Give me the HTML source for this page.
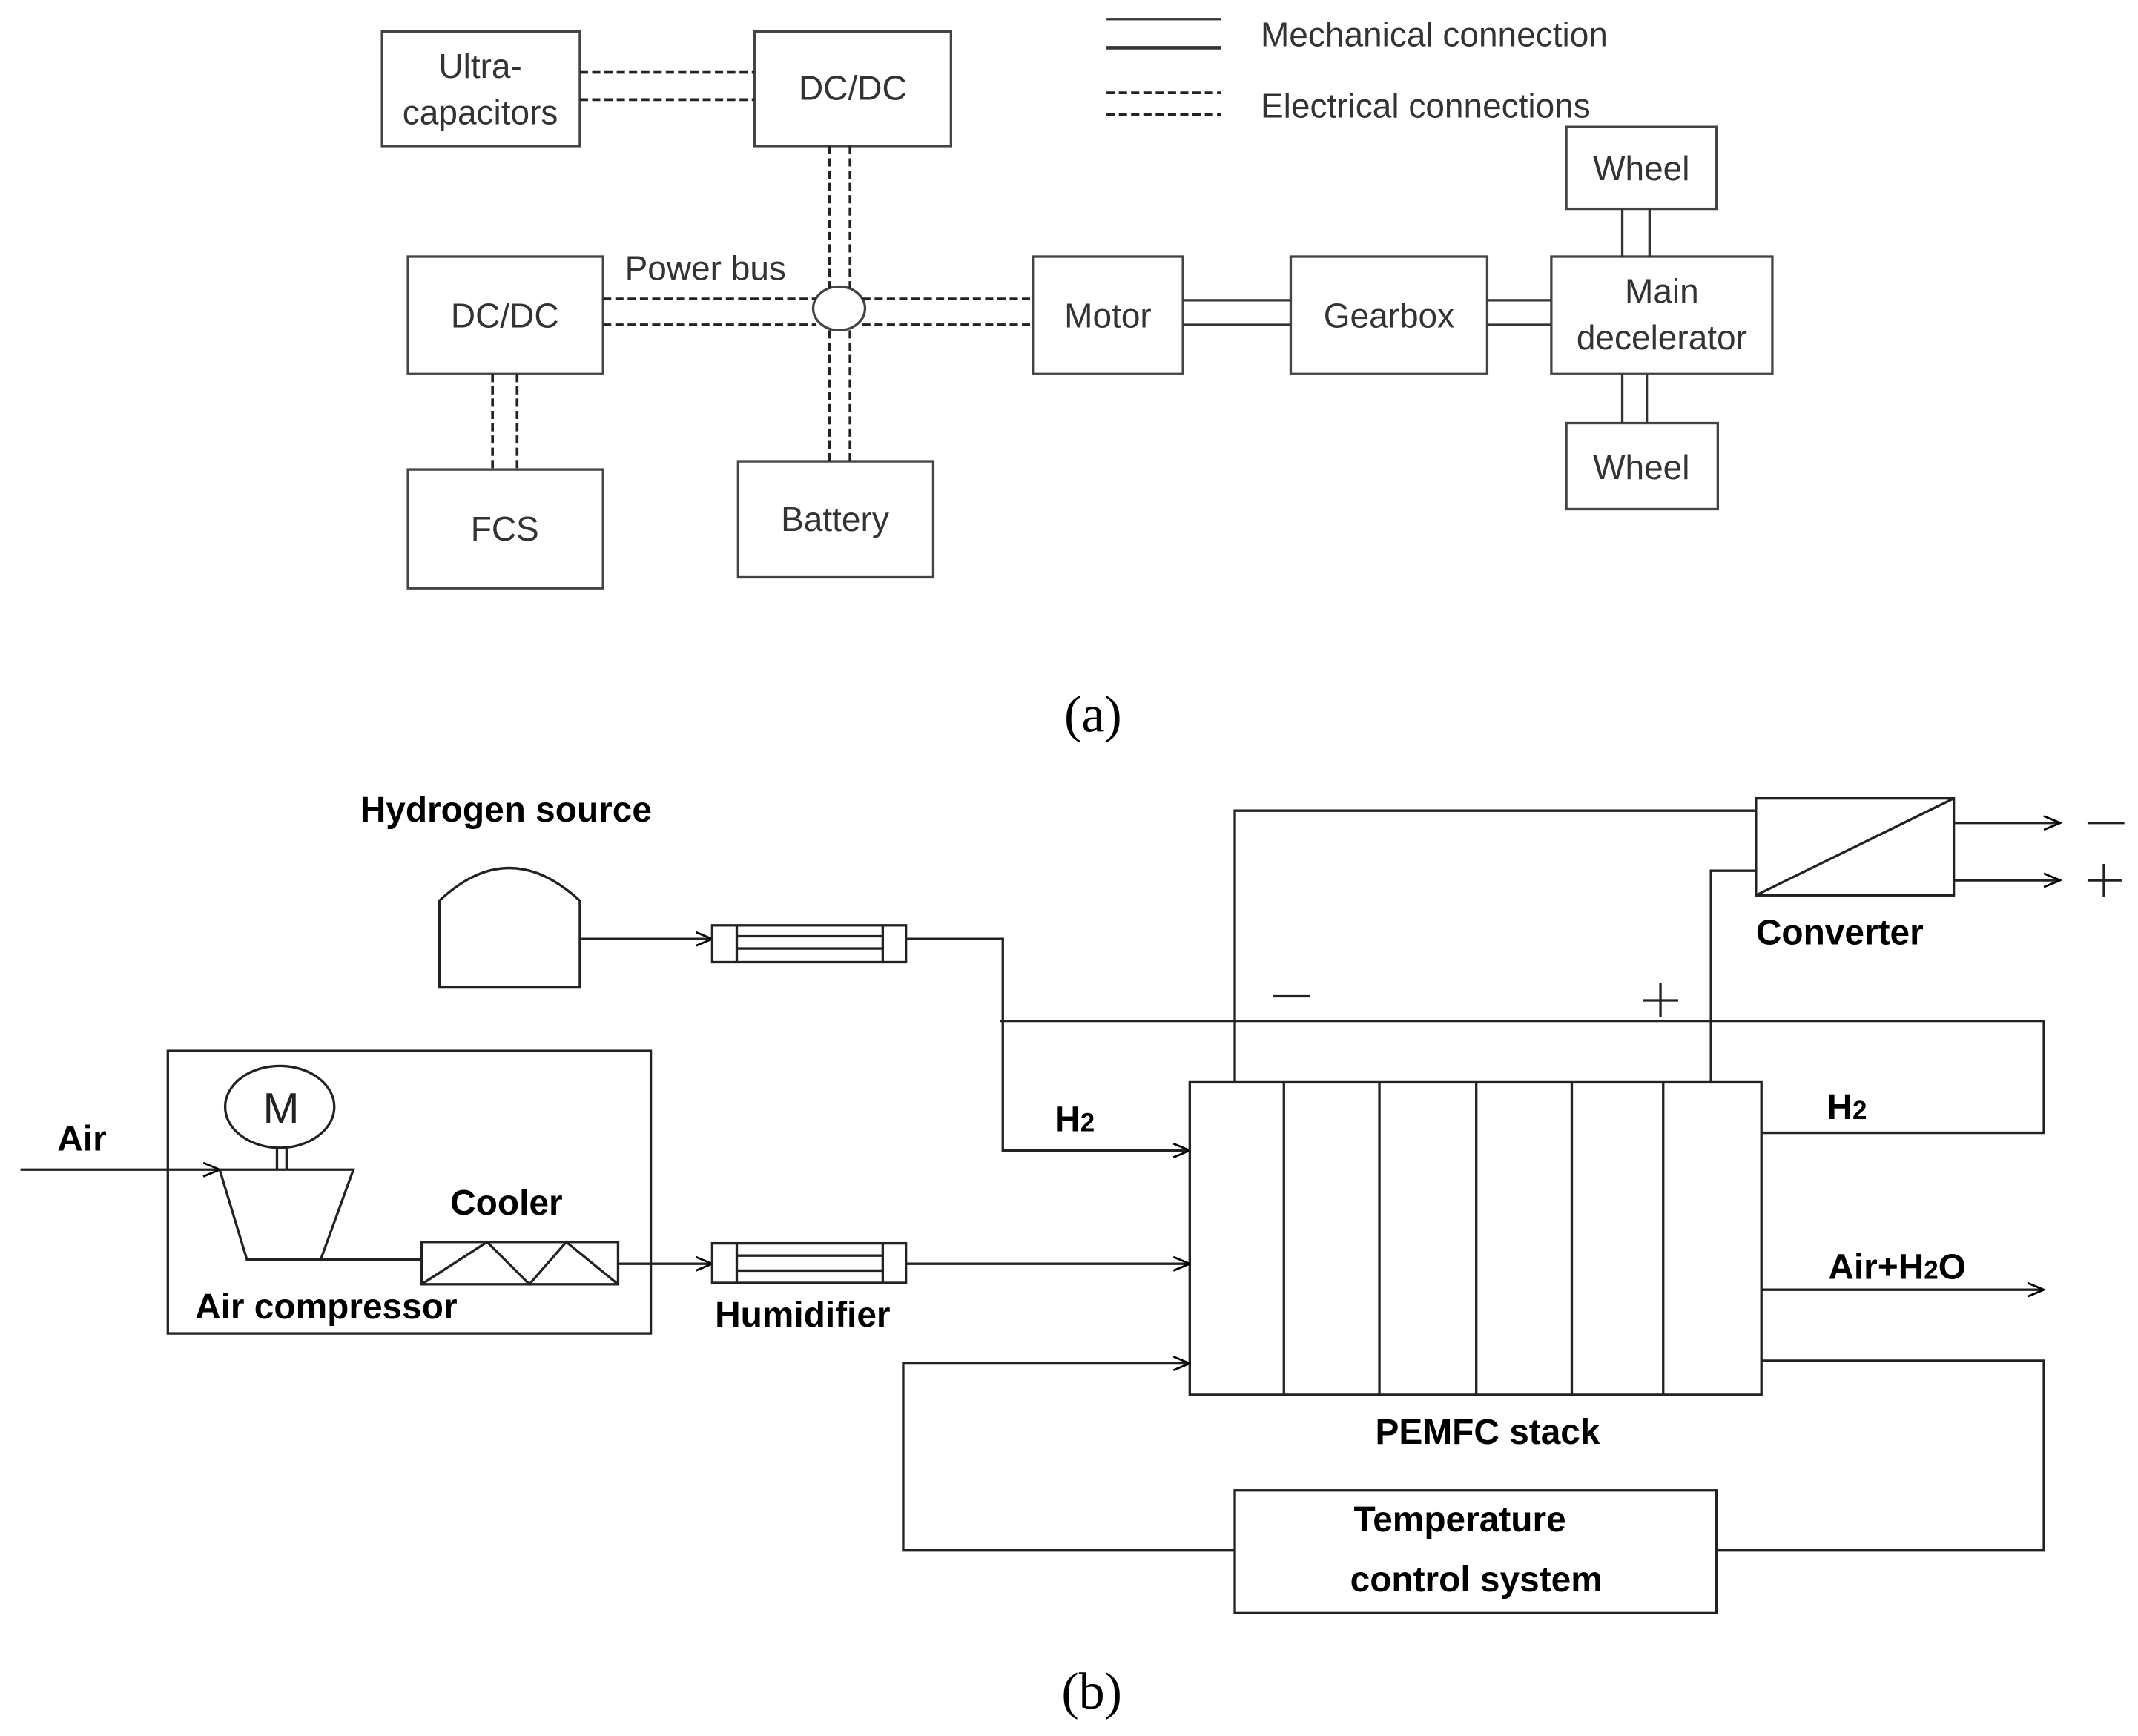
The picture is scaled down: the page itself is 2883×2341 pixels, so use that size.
<!DOCTYPE html>
<html><head><meta charset="utf-8"><style>
html,body{margin:0;padding:0;background:#fff;}
svg{display:block;}
.a{font-family:"Liberation Sans",sans-serif;font-size:25px;fill:#333;}
.b{font-family:"Liberation Sans",sans-serif;font-size:26px;font-weight:bold;fill:#000;}
.s{font-family:"Liberation Serif",serif;font-size:38px;fill:#000;}
</style></head><body>
<svg width="2883" height="2341" viewBox="0 0 1567 1272" preserveAspectRatio="none" xmlns="http://www.w3.org/2000/svg">
<defs>
<marker id="ar" markerWidth="14" markerHeight="12" refX="13" refY="6" orient="auto" markerUnits="userSpaceOnUse">
<path d="M1,1 L13,6 L1,11" fill="none" stroke="#000" stroke-width="1.5"/>
</marker>
</defs>
<rect width="1567" height="1272" fill="#fff"/>
<!-- (a) -->
<g fill="none" stroke="#444" stroke-width="1.8">
<rect x="280" y="23" width="145" height="84"/>
<rect x="553" y="23" width="144" height="84"/>
<rect x="299" y="188" width="143" height="86"/>
<rect x="299" y="344" width="143" height="87"/>
<rect x="541" y="338" width="143" height="85"/>
<rect x="757" y="188" width="110" height="86"/>
<rect x="946" y="188" width="144" height="86"/>
<rect x="1137" y="188" width="162" height="86"/>
<rect x="1148" y="93" width="110" height="60"/>
<rect x="1148" y="310" width="111" height="63"/>
<ellipse cx="615" cy="226" rx="19" ry="16"/>
</g>
<g fill="none" stroke="#222" stroke-width="2" stroke-dasharray="6,3">
<line x1="425" y1="53" x2="553" y2="53"/><line x1="425" y1="73" x2="553" y2="73"/>
<line x1="608" y1="107" x2="608" y2="211"/><line x1="623" y1="107" x2="623" y2="211"/>
<line x1="608" y1="242" x2="608" y2="338"/><line x1="623" y1="242" x2="623" y2="338"/>
<line x1="442" y1="219" x2="598" y2="219"/><line x1="442" y1="238" x2="598" y2="238"/>
<line x1="632" y1="219" x2="757" y2="219"/><line x1="632" y1="238" x2="757" y2="238"/>
<line x1="361" y1="274" x2="361" y2="344"/><line x1="379" y1="274" x2="379" y2="344"/>
<line x1="811" y1="68" x2="895" y2="68"/><line x1="811" y1="84" x2="895" y2="84"/>
</g>
<g stroke="#333" stroke-width="1.8">
<line x1="867" y1="220" x2="946" y2="220"/><line x1="867" y1="238" x2="946" y2="238"/>
<line x1="1090" y1="220" x2="1137" y2="220"/><line x1="1090" y1="238" x2="1137" y2="238"/>
<line x1="1189" y1="153" x2="1189" y2="188"/><line x1="1209" y1="153" x2="1209" y2="188"/>
<line x1="1189" y1="274" x2="1189" y2="310"/><line x1="1207" y1="274" x2="1207" y2="310"/>
<line x1="811" y1="14" x2="895" y2="14"/><line x1="811" y1="35" x2="895" y2="35" stroke-width="2.5"/>
</g>
<g class="a" text-anchor="middle">
<text x="352" y="57">Ultra-</text><text x="352" y="91">capacitors</text>
<text x="625" y="73">DC/DC</text>
<text x="370" y="240">DC/DC</text>
<text x="370" y="396">FCS</text>
<text x="612" y="389">Battery</text>
<text x="812" y="240">Motor</text>
<text x="1018" y="240">Gearbox</text>
<text x="1218" y="222">Main</text><text x="1218" y="256">decelerator</text>
<text x="1203" y="132">Wheel</text>
<text x="1203" y="351">Wheel</text>
</g>
<text class="a" x="458" y="205">Power bus</text>
<text class="a" x="924" y="34">Mechanical connection</text>
<text class="a" x="924" y="86">Electrical connections</text>
<text class="s" x="780" y="536">(a)</text>
<!-- (b) -->
<g fill="none" stroke="#222" stroke-width="1.8">
<path d="M322,723 V660 Q373,612 425,660 V723 Z"/>
<line x1="425" y1="688" x2="522" y2="688" marker-end="url(#ar)"/>
<rect x="522" y="678" width="142" height="27"/>
<line x1="540" y1="678" x2="540" y2="705"/><line x1="647" y1="678" x2="647" y2="705"/>
<line x1="540" y1="686" x2="647" y2="686"/><line x1="540" y1="695" x2="647" y2="695"/>
<polyline points="664,688 735,688 735,843 872,843" marker-end="url(#ar)"/>
<polyline points="733,748 1498,748 1498,830 1291,830"/>
<rect x="872" y="793" width="419" height="229"/>
<line x1="941" y1="793" x2="941" y2="1022"/><line x1="1011" y1="793" x2="1011" y2="1022"/>
<line x1="1082" y1="793" x2="1082" y2="1022"/><line x1="1152" y1="793" x2="1152" y2="1022"/>
<line x1="1219" y1="793" x2="1219" y2="1022"/>
<polyline points="905,793 905,594 1287,594"/>
<polyline points="1254,793 1254,638 1287,638"/>
<rect x="1287" y="585" width="145" height="71"/>
<line x1="1287" y1="656" x2="1432" y2="585"/>
<line x1="1432" y1="603" x2="1510" y2="603" marker-end="url(#ar)"/>
<line x1="1432" y1="645" x2="1510" y2="645" marker-end="url(#ar)"/>
<line x1="1291" y1="945" x2="1498" y2="945" marker-end="url(#ar)"/>
<polyline points="1291,997 1498,997 1498,1136 1258,1136"/>
<rect x="905" y="1092" width="353" height="90"/>
<polyline points="905,1136 662,1136 662,999 872,999" marker-end="url(#ar)"/>
<rect x="123" y="770" width="354" height="207"/>
<ellipse cx="205" cy="811" rx="40" ry="30"/>
<line x1="203" y1="841" x2="203" y2="857"/><line x1="210" y1="841" x2="210" y2="857"/>
<line x1="15" y1="857" x2="161" y2="857" marker-end="url(#ar)"/>
<path d="M161,857 H259 L235,923 H181 Z"/>
<line x1="235" y1="923" x2="309" y2="923"/>
<rect x="309" y="910" width="144" height="31"/>
<polyline points="309,941 357,910 388,941 415,910 453,941"/>
<line x1="453" y1="926" x2="522" y2="926" marker-end="url(#ar)"/>
<rect x="522" y="911" width="142" height="29"/>
<line x1="540" y1="911" x2="540" y2="940"/><line x1="647" y1="911" x2="647" y2="940"/>
<line x1="540" y1="920" x2="647" y2="920"/><line x1="540" y1="931" x2="647" y2="931"/>
<line x1="664" y1="926" x2="872" y2="926" marker-end="url(#ar)"/>
<line x1="933" y1="730" x2="960" y2="730"/>
<line x1="1204" y1="733" x2="1230" y2="733"/><line x1="1217" y1="720" x2="1217" y2="745"/>
<line x1="1530" y1="603" x2="1557" y2="603"/>
<line x1="1530" y1="645" x2="1555" y2="645"/><line x1="1542" y1="633" x2="1542" y2="657"/>
</g>
<text x="206" y="823" text-anchor="middle" font-family="Liberation Sans, sans-serif" font-size="32" fill="#222">M</text>
<g class="b">
<text x="264" y="602">Hydrogen source</text>
<text x="1287" y="692">Converter</text>
<text x="42" y="843">Air</text>
<text x="330" y="890">Cooler</text>
<text x="143" y="966">Air compressor</text>
<text x="524" y="972">Humidifier</text>
<text x="773" y="829">H<tspan font-size="19">2</tspan></text>
<text x="1339" y="820">H<tspan font-size="19">2</tspan></text>
<text x="1340" y="937">Air+H<tspan font-size="19">2</tspan>O</text>
<text x="1008" y="1058">PEMFC stack</text>
<text x="1070" y="1122" text-anchor="middle">Temperature</text>
<text x="1082" y="1166" text-anchor="middle">control system</text>
</g>
<text class="s" x="778" y="1252">(b)</text>
</svg>
</body></html>
